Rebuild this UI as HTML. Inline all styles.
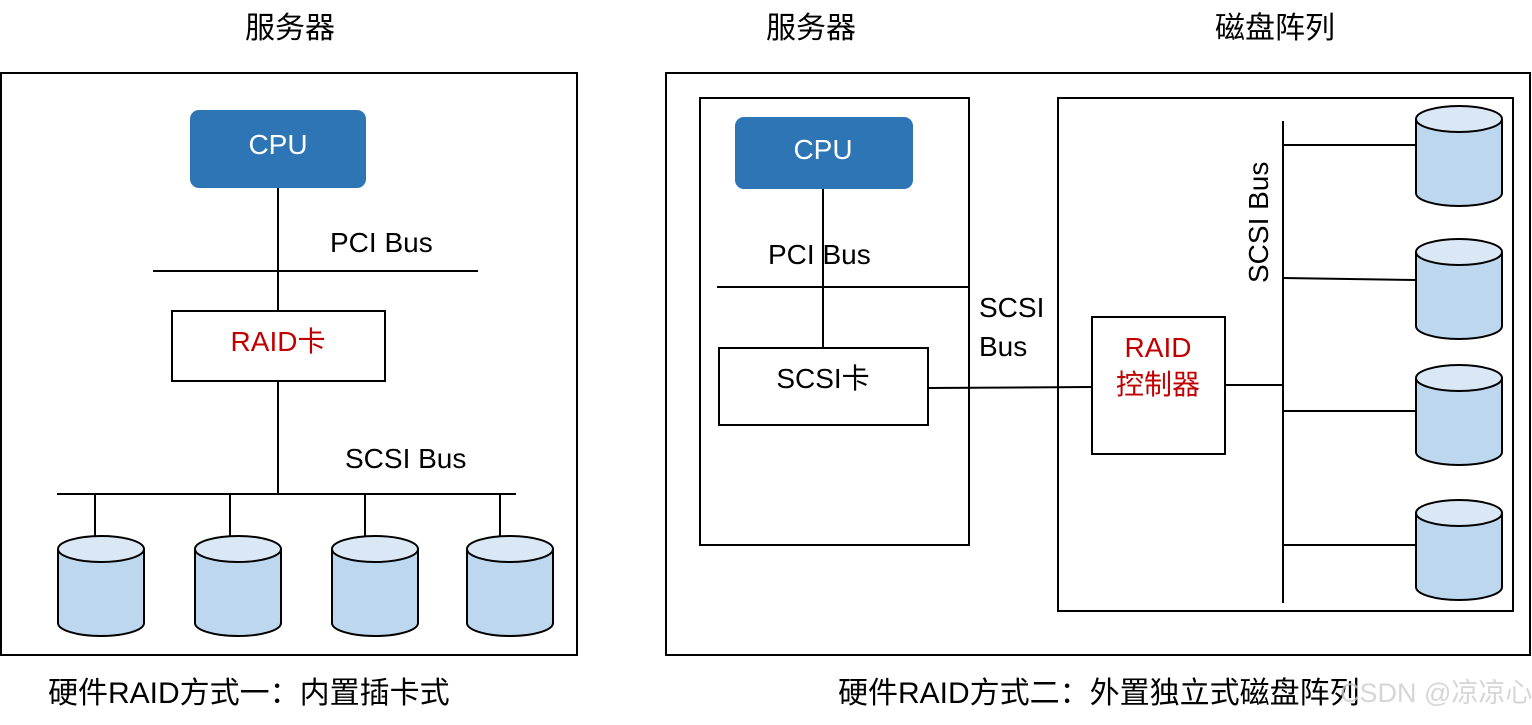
<!DOCTYPE html>
<html><head><meta charset="utf-8"><style>
body{margin:0;background:#fff}
text{font-family:"Liberation Sans","Noto Sans CJK SC",sans-serif}
</style></head><body>
<svg width="1532" height="720" xmlns="http://www.w3.org/2000/svg">
<defs>
<g id="cyl">
<path d="M-43,0 V74 A43,13 0 0 0 43,74 V0" fill="#BDD7EE" stroke="#000" stroke-width="2"/>
<ellipse cx="0" cy="0" rx="43" ry="13" fill="#DAE8F5" stroke="#000" stroke-width="2"/>
</g>
</defs>
<g fill="none" stroke="#000" stroke-width="2">
<rect x="1" y="73" width="576" height="582"/>
<line x1="278" y1="188" x2="278" y2="311"/>
<line x1="153" y1="271" x2="478" y2="271"/>
<rect x="172" y="311" width="213" height="70"/>
<line x1="278" y1="381" x2="278" y2="494"/>
<line x1="57" y1="494" x2="516" y2="494"/>
<line x1="95" y1="494" x2="95" y2="536"/>
<line x1="230" y1="494" x2="230" y2="536"/>
<line x1="365" y1="494" x2="365" y2="536"/>
<line x1="500" y1="494" x2="500" y2="536"/>
<rect x="666" y="73" width="864" height="582"/>
<rect x="700" y="98" width="269" height="447"/>
<line x1="823" y1="183" x2="823" y2="348"/>
<line x1="717" y1="287" x2="969" y2="287"/>
<rect x="719" y="348" width="209" height="77"/>
<line x1="928" y1="388" x2="1091" y2="387"/>
<rect x="1058" y="98" width="455" height="513"/>
<rect x="1092" y="317" width="133" height="137"/>
<line x1="1225" y1="385" x2="1283" y2="385"/>
<line x1="1283" y1="121" x2="1283" y2="603"/>
<line x1="1283" y1="145" x2="1416" y2="145"/>
<line x1="1283" y1="278" x2="1416" y2="280"/>
<line x1="1283" y1="411" x2="1416" y2="411"/>
<line x1="1283" y1="545" x2="1416" y2="545"/>
</g>
<rect x="190" y="110" width="176" height="78" rx="9" fill="#2E75B6"/>
<rect x="735" y="117" width="178" height="72" rx="9" fill="#2E75B6"/>
<use href="#cyl" x="101" y="549"/>
<use href="#cyl" x="238" y="549"/>
<use href="#cyl" x="375" y="549"/>
<use href="#cyl" x="510" y="549"/>
<use href="#cyl" x="1459" y="119"/>
<use href="#cyl" x="1459" y="252"/>
<use href="#cyl" x="1459" y="378"/>
<use href="#cyl" x="1459" y="513"/>
<g font-size="30" fill="#000">
<text x="290" y="38" text-anchor="middle">服务器</text>
<text x="811" y="38" text-anchor="middle">服务器</text>
<text x="1275" y="38" text-anchor="middle">磁盘阵列</text>
<text x="48" y="703">硬件RAID方式一：内置插卡式</text>
<text x="838" y="703">硬件RAID方式二：外置独立式磁盘阵列</text>
</g>
<text x="1340" y="702" font-size="27" fill="#ccc" fill-opacity="0.8">CSDN @凉凉心.</text>
<g font-size="28" fill="#000">
<text x="278" y="154" text-anchor="middle" fill="#fff">CPU</text>
<text x="823" y="159" text-anchor="middle" fill="#fff">CPU</text>
<text x="330" y="252">PCI Bus</text>
<text x="768" y="264">PCI Bus</text>
<text x="345" y="468">SCSI Bus</text>
<text x="278" y="351" text-anchor="middle" fill="#C00000">RAID卡</text>
<text x="823" y="388" text-anchor="middle">SCSI卡</text>
<text x="979" y="317">SCSI</text>
<text x="979" y="356">Bus</text>
<text x="1158" y="357" text-anchor="middle" fill="#C00000">RAID</text>
<text x="1158" y="394" text-anchor="middle" fill="#C00000">控制器</text>
<text transform="translate(1268,283) rotate(-90)">SCSI Bus</text>
</g>
</svg>
</body></html>
